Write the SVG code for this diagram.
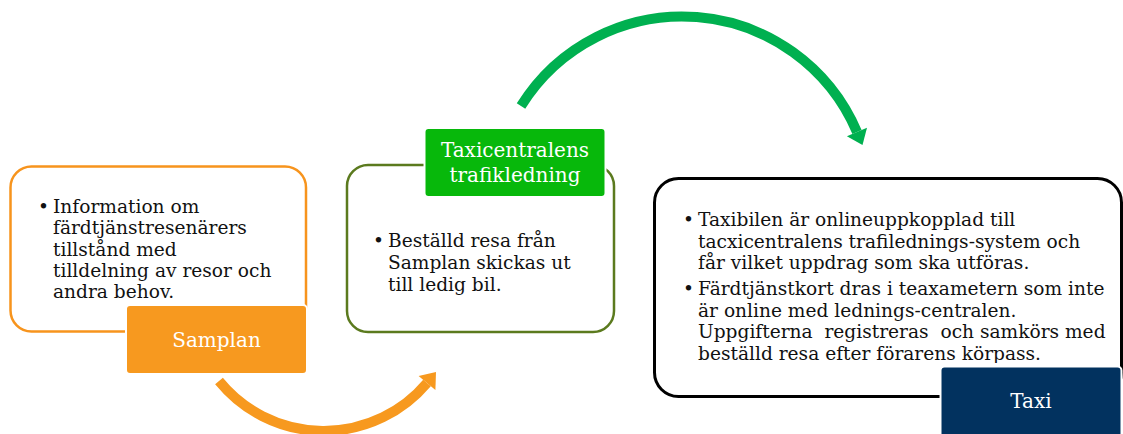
<svg xmlns="http://www.w3.org/2000/svg" width="1123" height="434" viewBox="0 0 1123 434">
<style>
  .body { font-family: "DejaVu Serif", "Liberation Serif", serif; font-size: 18.6px; fill: #111; }
  .lbl { font-family: "DejaVu Serif", "Liberation Serif", serif; font-size: 20px; fill: #fff; text-anchor: middle; }
  .frame { fill: #fff; }
  .tag { stroke: #fff; stroke-width: 2; }
  .pre { white-space: pre; }
</style>
<defs>
  <clipPath id="clipTaxi"><rect x="650" y="175" width="473" height="188"/></clipPath>
</defs>
<rect width="1123" height="434" fill="#fff"/>

<g id="connectors">
  <path d="M521,106 A190,190 0 0,1 857,132" fill="none" stroke="#00B050" stroke-width="10"/>
  <polygon points="862.5,145 867,127.7 846.9,136.3" fill="#00B050"/>
  <path d="M219,381 A135,135 0 0,0 427,383" fill="none" stroke="#F7991F" stroke-width="10"/>
  <polygon points="436,372 418.6,375.9 435.4,390.1" fill="#F7991F"/>
</g>

<g id="samplan">
  <rect class="frame" x="10.5" y="166.5" width="295.5" height="165" rx="21" stroke="#F7941D" stroke-width="2.5"/>
  <text class="body"><tspan x="38" y="213">•</tspan><tspan x="53" y="213">Information om</tspan><tspan x="53" y="234.3">färdtjänstresenärers</tspan><tspan x="53" y="255.6">tillstånd med</tspan><tspan x="53" y="277">tilldelning av resor och</tspan><tspan x="53" y="298.3">andra behov.</tspan></text>
  <rect class="tag" x="126" y="305" width="181" height="69" rx="4" fill="#F7991F"/>
  <text class="lbl" x="216.5" y="347">Samplan</text>
</g>

<g id="taxicentralen">
  <rect class="frame" x="347" y="165" width="267" height="167" rx="21" stroke="#5B7A1E" stroke-width="2.5"/>
  <text class="body"><tspan x="373" y="247">•</tspan><tspan x="388" y="247">Beställd resa från</tspan><tspan x="388" y="269">Samplan skickas ut</tspan><tspan x="388" y="291">till ledig bil.</tspan></text>
  <rect class="tag" x="424.5" y="128" width="181" height="69" rx="4" fill="#07B80B"/>
  <text class="lbl"><tspan x="515" y="157">Taxicentralens</tspan><tspan x="515" y="182">trafikledning</tspan></text>
</g>

<g id="taxi">
  <rect class="frame" x="654.5" y="178.5" width="467" height="218" rx="24" stroke="#000" stroke-width="3"/>
  <g clip-path="url(#clipTaxi)">
    <text class="body pre"><tspan x="683" y="226">•</tspan><tspan x="698" y="226">Taxibilen är onlineuppkopplad till</tspan><tspan x="698" y="247.5">tacxicentralens trafilednings-system och</tspan><tspan x="698" y="269">får vilket uppdrag som ska utföras.</tspan><tspan x="683" y="295">•</tspan><tspan x="698" y="295">Färdtjänstkort dras i teaxametern som inte</tspan><tspan x="698" y="316.5">är online med lednings-centralen.</tspan><tspan x="698" y="338">Uppgifterna  registreras  och samkörs med</tspan><tspan x="698" y="359.5">beställd resa efter förarens körpass.</tspan></text>
  </g>
  <rect class="tag" x="940.5" y="366.5" width="181" height="72" rx="4" fill="#02325F"/>
  <text class="lbl" x="1031" y="408">Taxi</text>
</g>
</svg>
